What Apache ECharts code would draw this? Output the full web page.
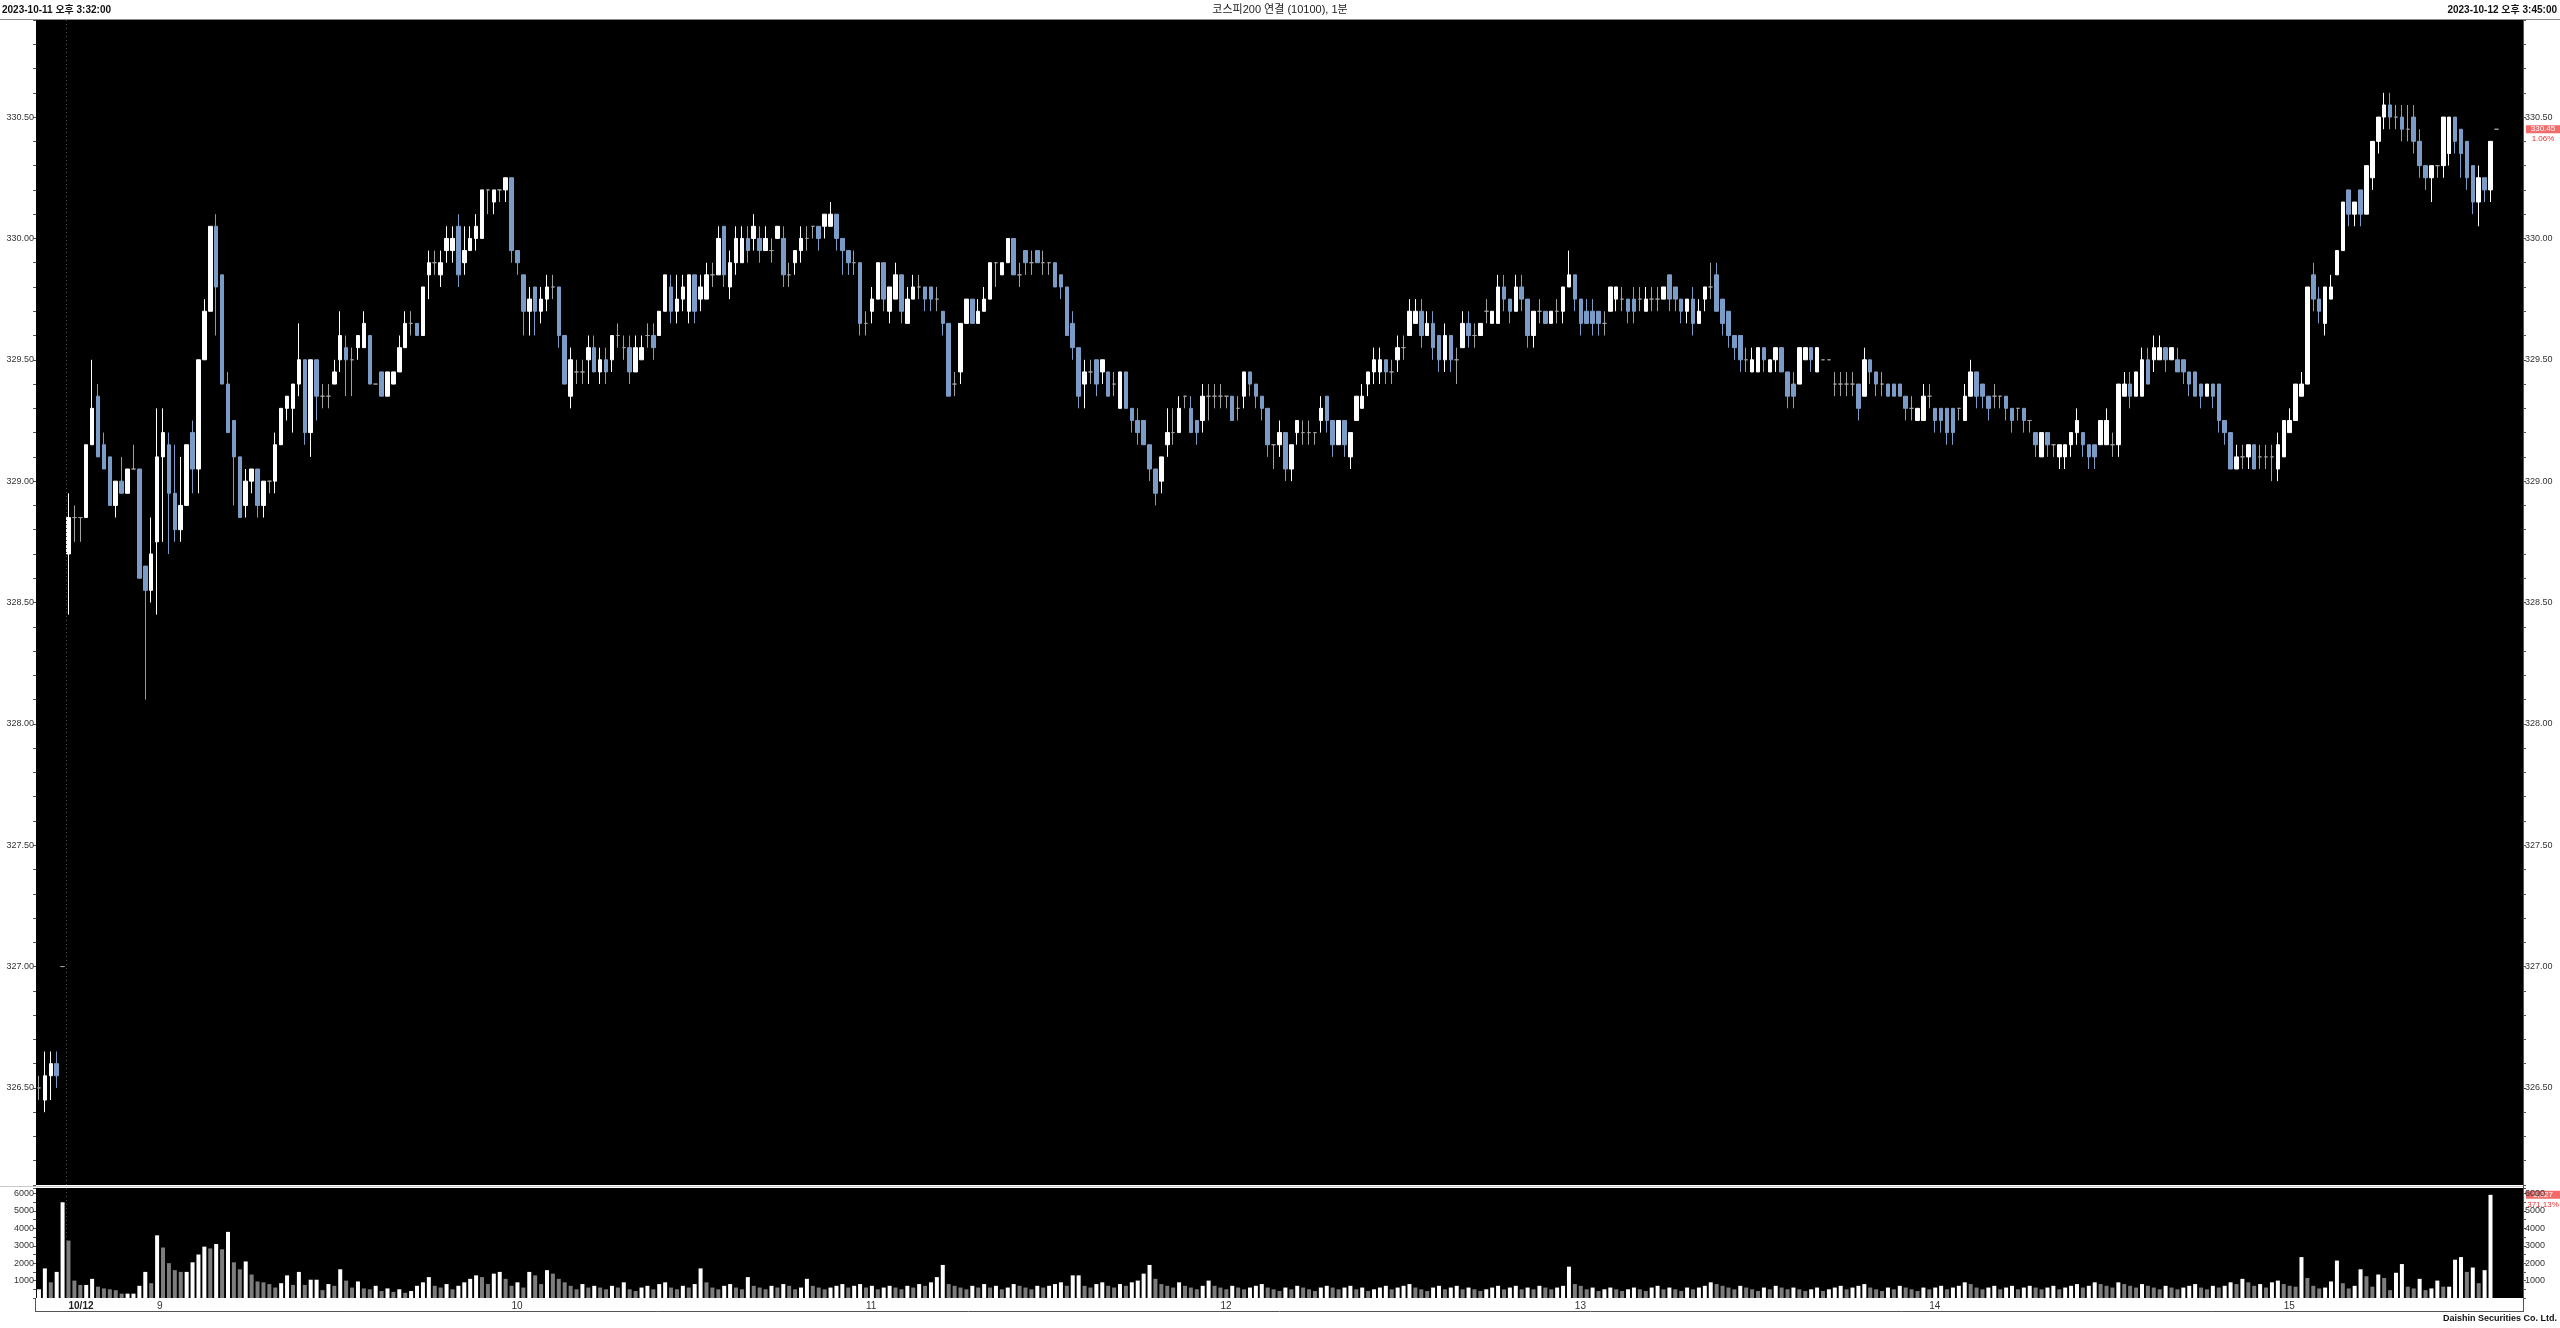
<!DOCTYPE html>
<html><head><meta charset="utf-8">
<script src="https://cdn.jsdelivr.net/npm/echarts@6/dist/echarts.min.js"></script>
<style>html,body{margin:0;padding:0;background:#fff;}#c{width:2560px;height:1328px;}</style>
</head><body><div id="c"></div>
<script>
// ---------- DATA ----------
const titleLeft = '2023-10-11 오후 3:32:00';
const titleCenter = '코스피200 연결 (10100), 1분';
const titleRight = '2023-10-12 오후 3:45:00';
const footer = 'Daishin Securities Co. Ltd.';
const volChangeText = '371.13%';

// sessions of 1-minute candles: [day, start time, number of candles]
const sessions = [['10/11','15:32',4],['10/11','15:45',1],['10/12','08:45',411],['10/12','15:45',1]];
const emptySlots = 4;

const xTickLabels = [['10/12 08:45','10/12'],['10/12 09:00','9'],['10/12 10:00','10'],['10/12 11:00','11'],
  ['10/12 12:00','12'],['10/12 13:00','13'],['10/12 14:00','14'],['10/12 15:00','15']];

// [open, close, low, high]
const ohlc = [
[326.50,326.50,326.45,326.55],[326.45,326.55,326.40,326.65],[326.55,326.60,326.45,326.65],[326.60,326.55,326.50,326.65],[327.00,327.00,327.00,327.00],
[328.70,328.85,328.45,328.95],[328.85,328.85,328.75,328.90],[328.85,328.85,328.75,328.85],[328.85,329.15,328.85,329.15],[329.15,329.30,329.15,329.50],
[329.35,329.10,329.10,329.40],[329.15,329.05,329.05,329.20],[329.10,328.90,328.90,329.10],[328.90,329.00,328.85,329.00],[329.00,328.95,328.95,329.10],
[328.95,329.05,328.95,329.05],[329.05,329.05,329.05,329.15],[329.05,328.60,328.60,329.05],[328.65,328.55,328.10,328.65],[328.55,328.70,328.50,328.85],
[328.75,329.10,328.45,329.30],[329.10,329.20,328.75,329.30],[329.15,328.95,328.70,329.20],[328.95,328.80,328.75,329.15],[328.80,328.90,328.75,329.10],
[328.90,329.15,328.90,329.15],[329.20,329.05,328.95,329.25],[329.05,329.50,328.95,329.50],[329.50,329.70,329.50,329.75],[329.70,330.05,329.70,330.05],
[330.05,329.80,329.60,330.10],[329.85,329.40,329.40,329.85],[329.40,329.20,329.20,329.45],[329.25,329.10,328.90,329.25],[329.10,328.85,328.85,329.10],
[328.90,329.00,328.85,329.05],[329.00,329.05,328.95,329.05],[329.05,328.90,328.85,329.05],[328.90,329.00,328.85,329.00],[329.00,329.00,328.95,329.00],
[329.00,329.15,328.95,329.20],[329.15,329.30,329.15,329.30],[329.30,329.35,329.25,329.35],[329.30,329.40,329.20,329.40],[329.40,329.50,329.35,329.65],
[329.50,329.20,329.15,329.50],[329.20,329.50,329.10,329.50],[329.50,329.35,329.25,329.50],[329.35,329.35,329.30,329.40],[329.35,329.35,329.30,329.40],
[329.40,329.45,329.40,329.50],[329.50,329.60,329.45,329.70],[329.55,329.50,329.35,329.60],[329.50,329.50,329.35,329.55],[329.55,329.60,329.50,329.60],
[329.55,329.65,329.55,329.70],[329.60,329.40,329.40,329.60],[329.40,329.40,329.40,329.40],[329.45,329.35,329.35,329.45],[329.35,329.45,329.35,329.45],
[329.40,329.45,329.40,329.45],[329.45,329.55,329.45,329.60],[329.55,329.65,329.55,329.70],[329.65,329.65,329.60,329.70],[329.65,329.60,329.60,329.65],
[329.60,329.80,329.60,329.80],[329.85,329.90,329.75,329.95],[329.90,329.90,329.85,329.95],[329.85,329.90,329.80,329.95],[329.95,330.00,329.90,330.05],
[329.95,330.00,329.90,330.05],[330.05,329.85,329.80,330.10],[329.90,329.95,329.85,330.05],[329.95,330.00,329.95,330.05],[330.00,330.05,329.95,330.10],
[330.00,330.20,330.00,330.20],[330.20,330.20,330.10,330.20],[330.15,330.20,330.10,330.20],[330.20,330.20,330.15,330.20],[330.20,330.25,330.15,330.25],
[330.25,329.95,329.90,330.25],[329.95,329.90,329.85,329.95],[329.85,329.70,329.60,329.85],[329.70,329.75,329.60,329.80],[329.80,329.70,329.60,329.80],
[329.70,329.75,329.65,329.80],[329.75,329.80,329.70,329.85],[329.80,329.80,329.75,329.85],[329.80,329.60,329.55,329.80],[329.60,329.40,329.40,329.60],
[329.35,329.50,329.30,329.55],[329.45,329.45,329.40,329.50],[329.45,329.45,329.40,329.50],[329.50,329.55,329.40,329.60],[329.55,329.45,329.45,329.60],
[329.45,329.50,329.40,329.55],[329.50,329.45,329.40,329.55],[329.50,329.60,329.45,329.60],[329.60,329.60,329.55,329.65],[329.55,329.55,329.50,329.60],
[329.55,329.45,329.40,329.60],[329.45,329.55,329.45,329.60],[329.50,329.55,329.50,329.60],[329.60,329.60,329.55,329.65],[329.60,329.55,329.50,329.65],
[329.60,329.70,329.60,329.70],[329.70,329.85,329.70,329.85],[329.80,329.70,329.65,329.85],[329.70,329.75,329.65,329.85],[329.75,329.80,329.70,329.85],
[329.70,329.85,329.65,329.85],[329.85,329.70,329.65,329.85],[329.75,329.80,329.70,329.85],[329.75,329.85,329.75,329.90],[329.85,329.85,329.80,329.90],
[329.85,330.00,329.85,330.05],[330.05,329.85,329.80,330.05],[329.80,329.90,329.75,329.95],[329.90,330.00,329.85,330.05],[329.90,330.00,329.90,330.05],
[330.00,329.95,329.90,330.05],[330.00,330.05,329.95,330.10],[330.00,329.95,329.90,330.05],[329.95,330.00,329.95,330.05],[329.95,329.95,329.90,330.00],
[330.00,330.05,330.00,330.05],[330.00,329.85,329.80,330.05],[329.85,329.85,329.80,329.90],[329.90,329.95,329.85,329.95],[329.95,330.00,329.90,330.05],
[330.00,330.00,329.95,330.05],[330.05,330.05,330.00,330.05],[330.05,330.00,329.95,330.05],[330.05,330.10,330.00,330.10],[330.05,330.10,330.05,330.15],
[330.10,330.00,329.95,330.10],[330.00,329.95,329.85,330.00],[329.95,329.90,329.85,329.95],[329.90,329.90,329.85,329.95],[329.90,329.65,329.60,329.90],
[329.65,329.65,329.60,329.70],[329.70,329.75,329.65,329.80],[329.75,329.90,329.75,329.90],[329.90,329.75,329.70,329.90],[329.70,329.80,329.65,329.80],
[329.75,329.85,329.75,329.90],[329.85,329.70,329.65,329.85],[329.65,329.75,329.65,329.80],[329.75,329.80,329.75,329.85],[329.80,329.80,329.75,329.85],
[329.80,329.75,329.70,329.80],[329.80,329.75,329.70,329.80],[329.75,329.75,329.70,329.80],[329.70,329.65,329.60,329.70],[329.65,329.35,329.35,329.65],
[329.40,329.40,329.35,329.45],[329.45,329.65,329.40,329.65],[329.65,329.75,329.65,329.75],[329.75,329.65,329.65,329.75],[329.65,329.70,329.65,329.75],
[329.70,329.75,329.70,329.80],[329.75,329.90,329.75,329.90],[329.90,329.90,329.80,329.90],[329.85,329.90,329.85,329.90],[329.90,330.00,329.90,330.00],
[330.00,329.85,329.85,330.00],[329.85,329.85,329.80,329.90],[329.95,329.90,329.85,329.95],[329.90,329.90,329.85,329.95],[329.95,329.90,329.90,329.95],
[329.90,329.90,329.85,329.95],[329.90,329.90,329.85,329.90],[329.90,329.80,329.80,329.90],[329.85,329.80,329.75,329.85],[329.80,329.60,329.60,329.80],
[329.65,329.55,329.50,329.70],[329.55,329.35,329.30,329.55],[329.40,329.45,329.30,329.50],[329.45,329.45,329.40,329.50],[329.50,329.40,329.35,329.50],
[329.45,329.50,329.40,329.50],[329.45,329.35,329.35,329.45],[329.40,329.40,329.35,329.45],[329.30,329.45,329.30,329.45],[329.45,329.30,329.30,329.45],
[329.30,329.25,329.20,329.30],[329.25,329.20,329.15,329.30],[329.25,329.15,329.15,329.25],[329.15,329.05,329.00,329.15],[329.05,328.95,328.90,329.05],
[329.00,329.10,328.95,329.10],[329.15,329.20,329.10,329.30],[329.20,329.20,329.15,329.30],[329.20,329.30,329.20,329.35],[329.35,329.35,329.30,329.35],
[329.30,329.20,329.20,329.35],[329.25,329.20,329.15,329.25],[329.25,329.35,329.20,329.40],[329.35,329.35,329.25,329.40],[329.35,329.35,329.30,329.40],
[329.35,329.35,329.30,329.40],[329.35,329.35,329.30,329.35],[329.35,329.25,329.25,329.35],[329.30,329.30,329.25,329.35],[329.35,329.45,329.30,329.45],
[329.45,329.40,329.35,329.45],[329.40,329.35,329.30,329.40],[329.35,329.30,329.25,329.35],[329.30,329.15,329.10,329.30],[329.15,329.15,329.05,329.15],
[329.15,329.20,329.10,329.25],[329.20,329.05,329.00,329.20],[329.05,329.15,329.00,329.15],[329.20,329.25,329.15,329.25],[329.20,329.20,329.15,329.25],
[329.20,329.20,329.15,329.25],[329.20,329.20,329.15,329.20],[329.25,329.30,329.20,329.35],[329.35,329.25,329.20,329.35],[329.25,329.15,329.10,329.25],
[329.15,329.25,329.15,329.25],[329.25,329.15,329.10,329.25],[329.10,329.20,329.05,329.20],[329.25,329.35,329.25,329.35],[329.30,329.35,329.30,329.40],
[329.40,329.45,329.35,329.45],[329.45,329.50,329.40,329.55],[329.45,329.50,329.40,329.55],[329.50,329.45,329.40,329.50],[329.45,329.45,329.40,329.50],
[329.50,329.55,329.45,329.60],[329.55,329.55,329.50,329.60],[329.60,329.70,329.60,329.75],[329.65,329.70,329.65,329.75],[329.70,329.60,329.55,329.75],
[329.60,329.65,329.60,329.70],[329.65,329.55,329.50,329.70],[329.60,329.50,329.45,329.60],[329.50,329.60,329.45,329.65],[329.60,329.50,329.45,329.60],
[329.50,329.50,329.40,329.55],[329.55,329.65,329.55,329.70],[329.65,329.60,329.55,329.70],[329.60,329.60,329.55,329.65],[329.60,329.65,329.60,329.65],
[329.70,329.70,329.65,329.75],[329.65,329.70,329.65,329.70],[329.65,329.80,329.65,329.85],[329.80,329.75,329.70,329.85],[329.75,329.70,329.65,329.75],
[329.70,329.80,329.70,329.85],[329.80,329.75,329.70,329.85],[329.75,329.60,329.55,329.75],[329.60,329.70,329.55,329.70],[329.70,329.70,329.65,329.75],
[329.70,329.65,329.65,329.70],[329.65,329.70,329.65,329.70],[329.70,329.70,329.65,329.75],[329.70,329.80,329.65,329.80],[329.80,329.85,329.80,329.95],
[329.85,329.75,329.70,329.85],[329.75,329.65,329.60,329.75],[329.70,329.65,329.65,329.75],[329.70,329.65,329.60,329.75],[329.70,329.65,329.60,329.70],
[329.65,329.65,329.60,329.70],[329.70,329.80,329.70,329.80],[329.75,329.80,329.70,329.80],[329.75,329.75,329.70,329.80],[329.75,329.70,329.65,329.75],
[329.75,329.70,329.65,329.80],[329.75,329.75,329.70,329.80],[329.70,329.75,329.70,329.80],[329.75,329.75,329.70,329.80],[329.75,329.75,329.70,329.80],
[329.75,329.80,329.75,329.80],[329.85,329.75,329.70,329.85],[329.80,329.75,329.70,329.80],[329.75,329.70,329.65,329.75],[329.70,329.75,329.65,329.75],
[329.75,329.65,329.60,329.80],[329.65,329.70,329.65,329.75],[329.75,329.80,329.70,329.80],[329.80,329.80,329.75,329.90],[329.85,329.70,329.70,329.90],
[329.75,329.65,329.60,329.75],[329.70,329.60,329.55,329.70],[329.60,329.55,329.50,329.60],[329.60,329.50,329.45,329.60],[329.50,329.50,329.45,329.55],
[329.45,329.50,329.45,329.55],[329.45,329.55,329.45,329.55],[329.55,329.50,329.45,329.55],[329.45,329.50,329.45,329.50],[329.50,329.55,329.45,329.55],
[329.55,329.45,329.45,329.55],[329.45,329.35,329.30,329.45],[329.40,329.35,329.30,329.45],[329.40,329.55,329.40,329.55],[329.50,329.55,329.50,329.55],
[329.55,329.50,329.45,329.55],[329.45,329.55,329.45,329.55],[329.50,329.50,329.50,329.50],[329.50,329.50,329.50,329.50],[329.40,329.40,329.35,329.45],
[329.40,329.40,329.35,329.45],[329.40,329.40,329.35,329.45],[329.40,329.40,329.35,329.45],[329.40,329.30,329.25,329.40],[329.35,329.50,329.35,329.55],
[329.50,329.45,329.40,329.50],[329.45,329.40,329.35,329.45],[329.40,329.40,329.35,329.45],[329.40,329.35,329.35,329.40],[329.40,329.35,329.35,329.40],
[329.40,329.35,329.35,329.40],[329.35,329.30,329.25,329.35],[329.30,329.30,329.25,329.35],[329.25,329.30,329.25,329.30],[329.25,329.35,329.25,329.40],
[329.35,329.35,329.30,329.40],[329.30,329.25,329.20,329.30],[329.30,329.25,329.20,329.30],[329.30,329.20,329.15,329.30],[329.30,329.20,329.15,329.30],
[329.30,329.30,329.25,329.30],[329.25,329.35,329.25,329.40],[329.35,329.45,329.35,329.50],[329.45,329.35,329.30,329.45],[329.40,329.35,329.30,329.40],
[329.35,329.30,329.25,329.35],[329.35,329.35,329.30,329.40],[329.35,329.35,329.30,329.35],[329.35,329.30,329.25,329.35],[329.30,329.25,329.20,329.30],
[329.30,329.30,329.25,329.30],[329.30,329.25,329.20,329.30],[329.25,329.25,329.20,329.25],[329.20,329.15,329.10,329.20],[329.10,329.20,329.10,329.20],
[329.20,329.15,329.10,329.20],[329.15,329.15,329.10,329.15],[329.10,329.15,329.05,329.15],[329.10,329.15,329.05,329.15],[329.15,329.20,329.10,329.20],
[329.20,329.25,329.15,329.30],[329.20,329.15,329.10,329.20],[329.15,329.10,329.05,329.15],[329.15,329.10,329.05,329.15],[329.15,329.25,329.15,329.25],
[329.15,329.25,329.15,329.30],[329.15,329.15,329.10,329.20],[329.15,329.40,329.10,329.40],[329.35,329.40,329.35,329.45],[329.40,329.35,329.30,329.45],
[329.35,329.45,329.35,329.45],[329.35,329.50,329.35,329.55],[329.50,329.40,329.40,329.55],[329.50,329.55,329.45,329.60],[329.50,329.55,329.50,329.60],
[329.55,329.50,329.45,329.55],[329.50,329.55,329.50,329.55],[329.50,329.45,329.45,329.55],[329.50,329.45,329.40,329.50],[329.45,329.40,329.35,329.45],
[329.45,329.35,329.35,329.45],[329.40,329.35,329.30,329.40],[329.35,329.40,329.35,329.40],[329.40,329.35,329.30,329.40],[329.40,329.25,329.20,329.40],
[329.25,329.20,329.15,329.25],[329.20,329.05,329.05,329.20],[329.05,329.10,329.05,329.15],[329.10,329.10,329.05,329.15],[329.10,329.15,329.05,329.15],
[329.15,329.05,329.05,329.15],[329.10,329.10,329.05,329.15],[329.10,329.10,329.05,329.15],[329.10,329.10,329.00,329.15],[329.05,329.15,329.00,329.20],
[329.10,329.25,329.10,329.25],[329.20,329.25,329.20,329.30],[329.25,329.40,329.25,329.40],[329.35,329.40,329.35,329.45],[329.40,329.80,329.40,329.80],
[329.85,329.75,329.70,329.90],[329.75,329.70,329.65,329.80],[329.65,329.80,329.60,329.80],[329.75,329.80,329.75,329.85],[329.85,329.95,329.85,329.95],
[329.95,330.15,329.95,330.15],[330.20,330.10,330.05,330.20],[330.10,330.15,330.05,330.15],[330.20,330.10,330.05,330.20],[330.10,330.30,330.10,330.30],
[330.25,330.40,330.20,330.40],[330.40,330.50,330.35,330.50],[330.50,330.55,330.45,330.60],[330.55,330.50,330.45,330.60],[330.50,330.50,330.45,330.55],
[330.50,330.45,330.40,330.55],[330.45,330.45,330.40,330.55],[330.50,330.40,330.35,330.55],[330.40,330.30,330.25,330.45],[330.30,330.25,330.20,330.30],
[330.25,330.30,330.15,330.30],[330.30,330.30,330.25,330.30],[330.30,330.50,330.25,330.50],[330.35,330.50,330.30,330.50],[330.50,330.40,330.35,330.50],
[330.45,330.35,330.25,330.45],[330.40,330.25,330.20,330.40],[330.30,330.15,330.10,330.30],[330.15,330.25,330.05,330.30],[330.25,330.20,330.15,330.25],
[330.20,330.40,330.15,330.40],[330.45,330.45,330.45,330.45]
];

const volume = [
500,1700,900,1500,5500,3300,1000,750,750,1100, 650,550,500,450,250,250,250,700,1500,850,
3600,2900,2000,1600,1500,1500,2050,2500,2950,2850, 3100,2800,3800,2050,1650,2100,1350,950,900,800,
600,850,1300,750,1500,750,1050,1050,450,800, 700,1650,1000,600,950,550,500,700,400,550,
350,500,300,400,700,900,1200,700,600,800, 500,700,900,1100,1300,1200,800,1400,1500,1100,
700,900,600,1500,1300,800,1600,1400,1100,900, 700,500,800,600,700,600,500,700,600,900,
500,400,600,700,500,800,900,600,500,700, 600,800,1700,900,600,500,700,800,600,500,
1200,700,600,500,700,600,800,700,500,600, 1100,700,600,500,600,700,800,600,700,800,
600,700,500,600,700,600,500,700,600,800, 700,900,1200,1900,800,700,600,500,700,600,
800,600,700,500,600,800,700,600,500,700, 600,700,800,900,700,1300,1300,700,600,800,
900,700,600,800,700,900,1000,1400,1900,1100, 800,700,600,900,700,600,500,700,1000,700,
600,500,700,600,500,600,700,800,600,500, 400,600,500,700,600,500,400,600,700,600,
500,600,700,500,600,400,500,600,700,500, 600,700,800,600,500,400,600,700,500,600,
700,500,600,500,400,500,600,700,500,600, 700,500,600,500,700,600,500,600,700,1800,
800,700,500,600,400,500,600,500,400,500, 600,500,400,600,700,500,600,500,400,600,
500,600,700,900,800,700,600,500,700,600, 500,400,600,500,700,600,500,600,500,400,
500,600,400,500,600,700,500,600,700,800, 600,500,400,600,500,700,600,500,400,600,
500,600,700,500,600,700,900,800,600,500, 600,700,500,600,700,500,600,700,600,500,
600,700,500,600,700,800,600,700,900,800, 700,600,900,800,700,600,800,700,600,500,
700,600,500,600,700,800,600,500,700,600, 700,900,800,1100,900,700,800,600,900,1000,
800,700,650,2350,1150,700,550,600,950,2150, 850,550,700,1650,1250,650,1350,1150,450,1450,
1950,650,550,1100,450,550,1000,650,650,2200, 2350,1500,1750,850,1600,5927
];

// ---------- BUILD ----------
const categories = [];
sessions.forEach(([day, start, n]) => {
  let [h, m] = start.split(':').map(Number);
  let t = h * 60 + m;
  for (let k = 0; k < n; k++, t++) {
    const hh = String(Math.floor(t / 60)).padStart(2, '0');
    const mm = String(t % 60).padStart(2, '0');
    categories.push(day + ' ' + hh + ':' + mm);
  }
});
for (let k = 0; k < emptySlots; k++) categories.push('pad' + k);

const labelMap = {};
xTickLabels.forEach(([c, l]) => { labelMap[categories.indexOf(c)] = l; });

const UP = '#ffffff', DOWN = '#7b9cc6', DOJI = '#a0a0a0';
const volData = volume.map((v, i) => ({
  value: v,
  itemStyle: { color: (i === 0 || v >= volume[i - 1]) ? '#ffffff' : '#7d7d7d' }
}));

const FONT = "'Liberation Sans','Noto Sans CJK KR',Arial,sans-serif";
const isMult = (v, step) => Math.abs(v / step - Math.round(v / step)) < 1e-6;

const chart = echarts.init(document.getElementById('c'), null, { renderer: 'canvas', width: 2560, height: 1328 });

const priceAxisCommon = {
  type: 'value', gridIndex: 0, min: 326.1, max: 330.9, interval: 0.1, scale: true,
  splitLine: { show: false },
  axisLine: { show: false },
  axisTick: { show: true, length: 3, lineStyle: { color: '#555', width: 1 } },
  axisLabel: { fontSize: 9, fontFamily: FONT, color: '#333', margin: 2,
    formatter: v => isMult(v, 0.5) ? v.toFixed(2) : '' }
};
const volAxisCommon = {
  type: 'value', gridIndex: 1, min: 0, max: 6320, interval: 500,
  splitLine: { show: false },
  axisLine: { show: false },
  axisTick: { show: true, length: 3, lineStyle: { color: '#555', width: 1 } },
  axisLabel: { fontSize: 9, fontFamily: FONT, color: '#333', margin: 2,
    formatter: v => (v > 0 && isMult(v, 1000) && v <= 6000) ? String(v) : '' }
};

chart.setOption({
  animation: false,
  backgroundColor: '#ffffff',
  grid: [
    { left: 36, right: 37, top: 20, height: 1165, show: true, backgroundColor: '#000', borderWidth: 0, containLabel: false, outerBoundsMode: 'none' },
    { left: 36, right: 37, top: 1188, height: 110, show: true, backgroundColor: '#000', borderWidth: 0, containLabel: false, outerBoundsMode: 'none' }
  ],
  xAxis: [
    { type: 'category', gridIndex: 0, data: categories, boundaryGap: true,
      axisLine: { show: false }, axisTick: { show: false }, axisLabel: { show: false }, splitLine: { show: false } },
    { type: 'category', gridIndex: 1, data: categories, boundaryGap: true,
      axisLine: { show: false }, axisTick: { show: false }, splitLine: { show: false },
      axisLabel: { show: true, interval: (idx) => labelMap[idx] !== undefined, align: 'left', margin: 3,
        fontSize: 10, fontFamily: FONT, color: '#333',
        formatter: (val, idx) => {
          const l = labelMap[idx];
          if (l === undefined) return '';
          return l.indexOf('/') >= 0 ? '{b|' + l + '}' : l;
        },
        rich: { b: { fontWeight: 'bold', fontSize: 10, fontFamily: FONT, color: '#222' } } } }
  ],
  yAxis: [
    Object.assign({}, priceAxisCommon, { position: 'left' }),
    Object.assign({}, priceAxisCommon, { position: 'right' }),
    Object.assign({}, volAxisCommon, { position: 'left' }),
    Object.assign({}, volAxisCommon, { position: 'right' })
  ],
  series: [
    { type: 'candlestick', xAxisIndex: 0, yAxisIndex: 0, data: ohlc, barWidth: 4,
      itemStyle: { color: UP, color0: DOWN, borderColor: UP, borderColor0: DOWN, borderColorDoji: DOJI, borderWidth: 1 } },
    { type: 'bar', xAxisIndex: 1, yAxisIndex: 2, data: volData, barWidth: 4 }
  ]
});

// ---------- decorations computed from data ----------
const lastIdx = ohlc.length - 1;
const lastClose = ohlc[lastIdx][1];
const prevDayClose = ohlc[4][1];
const pct = ((lastClose / prevDayClose - 1) * 100).toFixed(2) + '%';
const lastVol = volume[volume.length - 1];

const pLast = chart.convertToPixel({ xAxisIndex: 0, yAxisIndex: 0 }, [categories[lastIdx], lastClose]);
const vLast = chart.convertToPixel({ xAxisIndex: 1, yAxisIndex: 2 }, [categories[lastIdx], lastVol]);
const sepA = chart.convertToPixel({ xAxisIndex: 0, yAxisIndex: 0 }, [categories[4], 330])[0];
const sepB = chart.convertToPixel({ xAxisIndex: 0, yAxisIndex: 0 }, [categories[5], 330])[0];
const sepX = Math.round((sepA + sepB) / 2) + 0.5;

const gridR = 2560 - 37;
const g = [];
// titles
g.push({ type: 'text', style: { text: titleLeft, x: 2, y: 10, font: 'bold 10px ' + FONT, fill: '#111', textVerticalAlign: 'middle' } });
g.push({ type: 'text', style: { text: titleCenter, x: 1280, y: 10, font: '11px ' + FONT, fill: '#222', textAlign: 'center', textVerticalAlign: 'middle' } });
g.push({ type: 'text', style: { text: titleRight, x: 2557, y: 10, font: 'bold 10px ' + FONT, fill: '#111', textAlign: 'right', textVerticalAlign: 'middle' } });
g.push({ type: 'text', style: { text: footer, x: 2557, y: 1319, font: 'bold 9px ' + FONT, fill: '#111', textAlign: 'right', textVerticalAlign: 'middle' } });
// frame lines
g.push({ type: 'line', shape: { x1: 0, y1: 19.5, x2: 2560, y2: 19.5 }, style: { stroke: '#8a8a8a', lineWidth: 1 } });
g.push({ type: 'line', shape: { x1: 0, y1: 1186.5, x2: gridR, y2: 1186.5 }, style: { stroke: '#c8c8c8', lineWidth: 1 } });
g.push({ type: 'line', shape: { x1: 36, y1: 1311.5, x2: gridR, y2: 1311.5 }, style: { stroke: '#555', lineWidth: 1 } });
g.push({ type: 'line', shape: { x1: 35.5, y1: 1298, x2: 35.5, y2: 1312 }, style: { stroke: '#555', lineWidth: 1 } });
g.push({ type: 'line', shape: { x1: gridR + 0.5, y1: 20, x2: gridR + 0.5, y2: 1312 }, style: { stroke: '#555', lineWidth: 1 } });
// day separator (dotted)
g.push({ type: 'line', z: 10, shape: { x1: sepX, y1: 20, x2: sepX, y2: 1298 }, style: { stroke: '#4a4a4a', lineWidth: 1, lineDash: [1, 3] } });
// last price badge
g.push({ type: 'rect', shape: { x: gridR + 3, y: pLast[1] - 4, width: 34, height: 8 }, style: { fill: '#f26b6b' } });
g.push({ type: 'text', style: { text: lastClose.toFixed(2), x: gridR + 20, y: pLast[1], font: '8px ' + FONT, fill: '#fff', textAlign: 'center', textVerticalAlign: 'middle' } });
g.push({ type: 'text', style: { text: pct, x: gridR + 20, y: pLast[1] + 10, font: '8px ' + FONT, fill: '#e83030', textAlign: 'center', textVerticalAlign: 'middle' } });
// last volume badge
g.push({ type: 'rect', shape: { x: gridR + 3, y: vLast[1] - 4, width: 34, height: 8 }, style: { fill: '#f26b6b' } });
g.push({ type: 'text', style: { text: lastVol.toLocaleString('en-US'), x: gridR + 20, y: vLast[1], font: '8px ' + FONT, fill: '#fff', textAlign: 'center', textVerticalAlign: 'middle' } });
g.push({ type: 'text', style: { text: volChangeText, x: gridR + 20, y: vLast[1] + 10, font: '8px ' + FONT, fill: '#e83030', textAlign: 'center', textVerticalAlign: 'middle' } });

chart.setOption({ graphic: g });
</script>
</body></html>
